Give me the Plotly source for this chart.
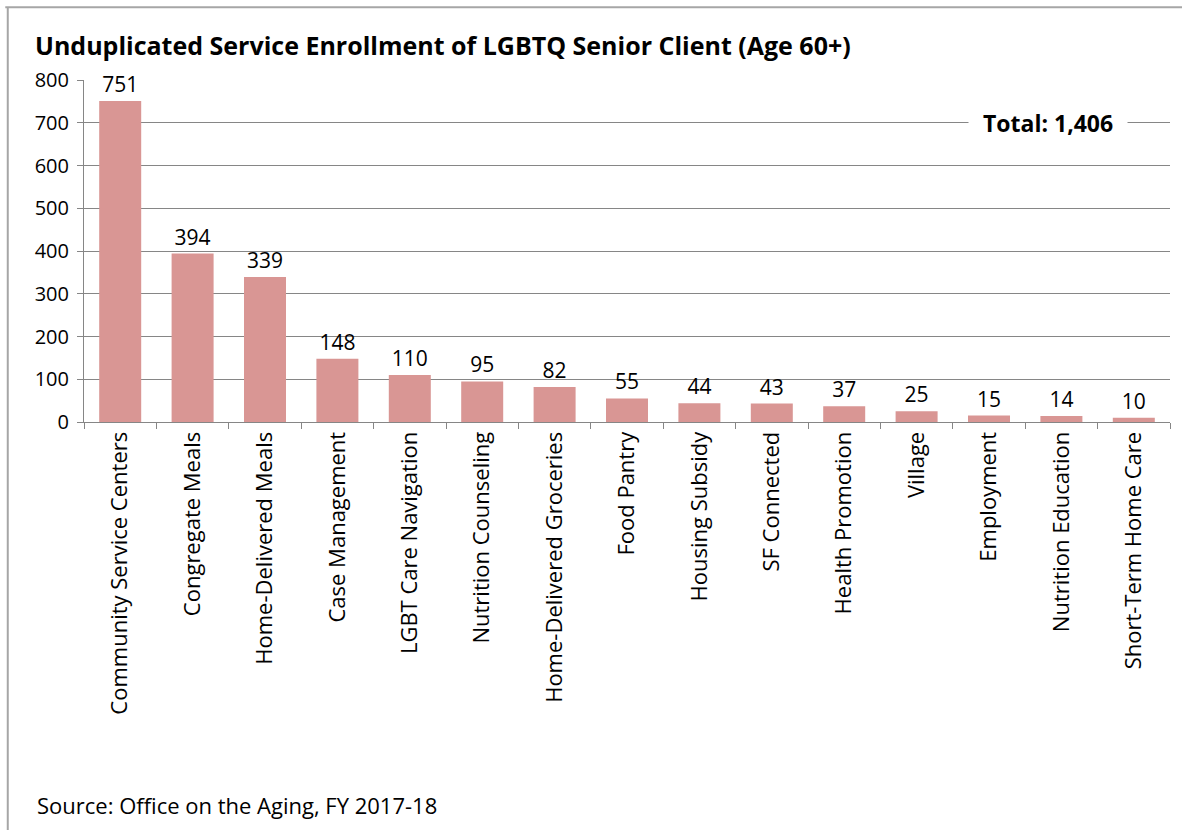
import plotly.graph_objects as go

# Service enrollment counts, LGBTQ senior clients (age 60+)
services = [
    "Community Service Centers", "Congregate Meals", "Home-Delivered Meals",
    "Case Management", "LGBT Care Navigation", "Nutrition Counseling",
    "Home-Delivered Groceries", "Food Pantry", "Housing Subsidy",
    "SF Connected", "Health Promotion", "Village", "Employment",
    "Nutrition Education", "Short-Term Home Care",
]
enrollment = [751, 394, 339, 148, 110, 95, 82, 55, 44, 43, 37, 25, 15, 14, 10]
total_clients = 1406
y_ticks = [0, 100, 200, 300, 400, 500, 600, 700, 800]

FONT = "'Open Sans', Lato, sans-serif"

fig = go.Figure(
    go.Bar(
        x=services,
        y=enrollment,
        marker=dict(color="#D99694", line=dict(width=0)),
        text=[str(v) for v in enrollment],
        textposition="outside",
        textfont=dict(family=FONT, size=21, color="#000000"),
        cliponaxis=False,
        width=0.58,
    )
)

fig.update_layout(
    width=1182,
    height=830,
    margin=dict(l=84, r=12, t=80, b=408),
    paper_bgcolor="white",
    plot_bgcolor="white",
    showlegend=False,
    font=dict(family=FONT, size=20, color="#000000"),
    xaxis=dict(
        tickangle=-90,
        showline=True,
        linecolor="#868686",
        linewidth=1,
        ticks="outside",
        ticklen=6,
        tickcolor="#868686",
        tickson="boundaries",
        tickfont=dict(family=FONT, size=22),
        showgrid=False,
    ),
    yaxis=dict(
        range=[0, 800],
        tickvals=y_ticks,
        showline=True,
        linecolor="#868686",
        linewidth=1,
        ticks="outside",
        ticklen=6,
        tickcolor="#868686",
        showgrid=True,
        gridcolor="#868686",
        gridwidth=1,
        zeroline=False,
        tickfont=dict(family=FONT, size=20),
        ticklabelstandoff=4,
    ),
    shapes=[
        # chart frame: top and left edges
        dict(type="line", xref="paper", yref="paper", x0=-0.0725, x1=1.02,
             y0=1.213, y1=1.213, line=dict(color="#A6A6A6", width=2)),
        dict(type="line", xref="paper", yref="paper", x0=-0.0702, x1=-0.0702,
             y0=1.213, y1=-1.3, line=dict(color="#A6A6A6", width=2)),
    ],
    annotations=[
        dict(
            text="<b>Unduplicated Service Enrollment of LGBTQ Senior Client (Age 60+)</b>",
            xref="paper", yref="paper", x=-0.047, y=1.102,
            xanchor="left", yanchor="middle", showarrow=False,
            font=dict(family=FONT, size=25, color="#000000"),
        ),
        dict(
            text=f"<b>Total: {total_clients:,}</b>",
            xref="paper", yref="y", x=0.888, y=700,
            xanchor="center", yanchor="middle", showarrow=False,
            bgcolor="white", borderpad=14,
            font=dict(family=FONT, size=23, color="#000000"),
        ),
        dict(
            text="Source: Office on the Aging, FY 2017-18",
            xref="paper", yref="paper", x=-0.045, y=-1.12,
            xanchor="left", yanchor="middle", showarrow=False,
            font=dict(family=FONT, size=22, color="#000000"),
        ),
    ],
)

fig.write_html("out.html")
